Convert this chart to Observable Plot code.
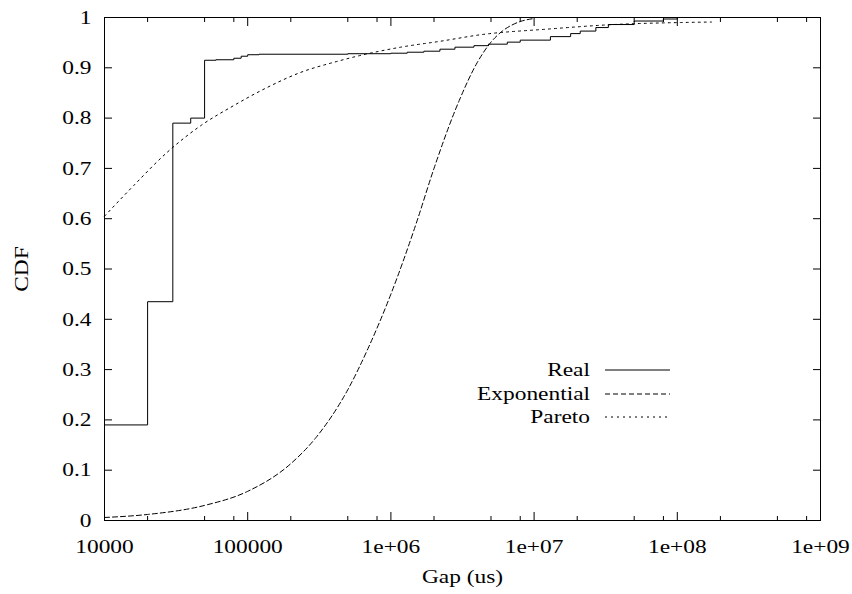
<!DOCTYPE html>
<html><head><meta charset="utf-8">
<script src="https://cdn.jsdelivr.net/npm/d3@7"></script>
<script src="https://cdn.jsdelivr.net/npm/@observablehq/plot@0.6"></script>
<style>
body{margin:0;background:#fff}
#wrap{position:relative;width:852px;height:594px;background:#fff}
#wrap svg{position:absolute;left:0;top:0}
</style></head><body><div id="wrap"></div>
<script>
// Real (empirical CDF, step function)
const realX = [1e4, 2e4, 3e4, 4e4, 5e4, 6e4, 8e4, 9e4, 1e5, 1.2e5, 5e5, 1e6, 1.3e6, 1.7e6, 2.2e6, 2.8e6, 3.8e6, 4.8e6, 6.5e6, 8e6, 1.3e7, 1.8e7, 2.1e7, 2.7e7, 3.3e7, 5e7, 8e7, 1e8];
const realY = [0.19, 0.435, 0.79, 0.80, 0.915, 0.916, 0.919, 0.923, 0.926, 0.927, 0.928, 0.929, 0.931, 0.933, 0.937, 0.941, 0.944, 0.947, 0.951, 0.955, 0.962, 0.968, 0.973, 0.98, 0.986, 0.993, 0.997, 1.0];
// Exponential fit
const expX = [1e4, 2e4, 5e4, 1e5, 2e5, 3e5, 5e5, 7e5, 1e6, 1.5e6, 2e6, 3e6, 4e6, 5e6, 6e6, 7e6, 8e6, 1e7];
const expY = [0.006, 0.012, 0.03, 0.058, 0.113, 0.165, 0.26, 0.345, 0.45, 0.59, 0.70, 0.835, 0.91, 0.951, 0.973, 0.985, 0.992, 0.998];
// Pareto fit
const parX = [1e4, 1.6e4, 2.74e4, 4.7e4, 8e4, 1.37e5, 2.35e5, 4e5, 6.9e5, 1.17e6, 2.24e6, 4.3e6, 1.25e7, 3.6e7, 1.05e8, 1.73e8];
const parY = [0.605, 0.666, 0.732, 0.785, 0.825, 0.861, 0.891, 0.911, 0.928, 0.941, 0.953, 0.966, 0.977, 0.986, 0.990, 0.991];

const xTicks = [1e4, 1e5, 1e6, 1e7, 1e8, 1e9];
const xTickLabels = ["10000", "100000", "1e+06", "1e+07", "1e+08", "1e+09"];
const xMinorTicks = [2e4,5e4,8e4, 2e5,5e5,8e5, 2e6,5e6,8e6, 2e7,5e7,8e7, 2e8,5e8,8e8];
const yTicks = [0,0.1,0.2,0.3,0.4,0.5,0.6,0.7,0.8,0.9,1];
const yTickLabels = ["0","0.1","0.2","0.3","0.4","0.5","0.6","0.7","0.8","0.9","1"];
const seriesNames = ["Real", "Exponential", "Pareto"];
const seriesDash = [null, "5,3", "2,4"];
const xLabel = "Gap (us)";
const yLabel = "CDF";

const real = realX.map((x, i) => ({x, y: realY[i]}));
const expo = expX.map((x, i) => ({x, y: expY[i]}));
const par = parX.map((x, i) => ({x, y: parY[i]}));

const FONT = "Liberation Serif, Times New Roman, serif";
const FS = 19.5;

const chart = Plot.plot({
  width: 852, height: 594,
  marginLeft: 104, marginRight: 32, marginTop: 17, marginBottom: 74,
  style: {fontFamily: FONT, fontSize: FS + "px", color: "black", background: "white"},
  x: {type: "log", domain: [1e4, 1e9]},
  y: {domain: [0, 1]},
  marks: [
    Plot.frame({stroke: "black", strokeWidth: 1}),
    Plot.axisX(xTicks, {anchor: "bottom", tickSize: 0, tickPadding: 19, label: null,
      tickFormat: d => xTickLabels[xTicks.indexOf(d)], fontSize: FS}),
    Plot.axisX(xTicks, {anchor: "bottom", tickSize: -8, text: null, label: null}),
    Plot.axisX(xMinorTicks, {anchor: "bottom", tickSize: -4, text: null, label: null}),
    Plot.axisX(xTicks, {anchor: "top", tickSize: -8, text: null, label: null}),
    Plot.axisX(xMinorTicks, {anchor: "top", tickSize: -4, text: null, label: null}),
    Plot.axisY(yTicks, {anchor: "left", tickSize: 0, tickPadding: 13, label: null,
      tickFormat: d => yTickLabels[yTicks.indexOf(d)], fontSize: FS}),
    Plot.axisY(yTicks, {anchor: "left", tickSize: -8, text: null, label: null}),
    Plot.axisY(yTicks, {anchor: "right", tickSize: -8, text: null, label: null}),
    Plot.text([xLabel], {frameAnchor: "bottom", dy: 62, lineAnchor: "bottom", fill: "black", fontSize: FS}),
    Plot.text([yLabel], {frameAnchor: "left", dx: -83, rotate: -90, lineAnchor: "middle", textAnchor: "middle", fill: "black", fontSize: FS}),
    Plot.line(real, {x: "x", y: "y", curve: "step-after", stroke: "black", strokeWidth: 1}),
    Plot.line(expo, {x: "x", y: "y", curve: "monotone-x", stroke: "black", strokeWidth: 1, strokeDasharray: seriesDash[1]}),
    Plot.line(par, {x: "x", y: "y", curve: "monotone-x", stroke: "black", strokeWidth: 1, strokeDasharray: seriesDash[2]})
  ]
});

// gnuplot-style horizontally wide serif text
chart.querySelectorAll("text").forEach(t => {
  const tr = t.getAttribute("transform") || "";
  t.setAttribute("transform", (tr + " scale(1.2,1)").trim());
});

const wrap = document.getElementById("wrap");
wrap.appendChild(chart);

// Legend overlay
const ns = "http://www.w3.org/2000/svg";
const leg = document.createElementNS(ns, "svg");
leg.setAttribute("width", 852); leg.setAttribute("height", 594);
leg.style.pointerEvents = "none";
const rowY = [370, 394, 417];
seriesNames.forEach((name, i) => {
  const tx = document.createElementNS(ns, "text");
  tx.setAttribute("transform", `translate(590,${rowY[i]}) scale(1.2,1)`);
  tx.setAttribute("text-anchor", "end");
  tx.setAttribute("dy", "0.32em");
  tx.setAttribute("font-family", FONT);
  tx.setAttribute("font-size", FS);
  tx.setAttribute("fill", "black");
  tx.textContent = name;
  leg.appendChild(tx);
  const ln = document.createElementNS(ns, "line");
  ln.setAttribute("x1", 605); ln.setAttribute("x2", 670);
  ln.setAttribute("y1", rowY[i]); ln.setAttribute("y2", rowY[i]);
  ln.setAttribute("stroke", "black"); ln.setAttribute("stroke-width", 1);
  if (seriesDash[i]) ln.setAttribute("stroke-dasharray", seriesDash[i]);
  leg.appendChild(ln);
});
wrap.appendChild(leg);
</script></body></html>
